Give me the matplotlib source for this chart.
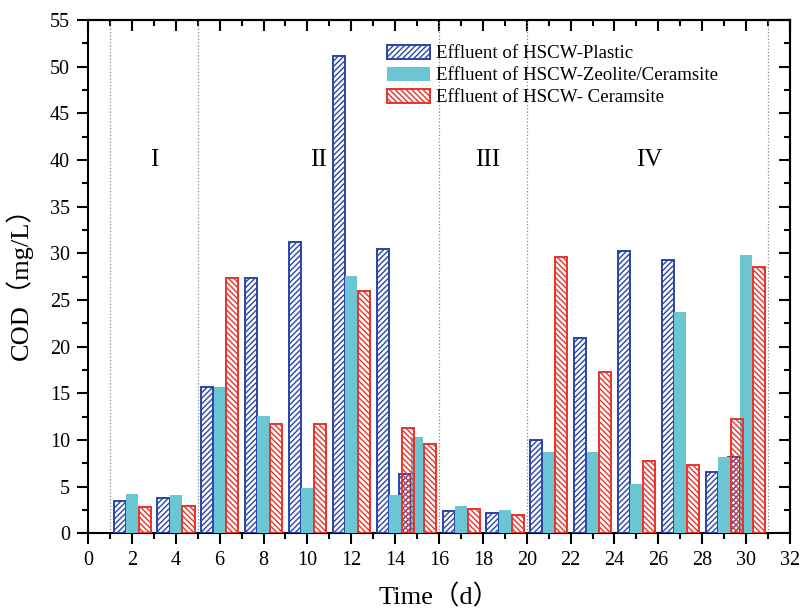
import matplotlib
matplotlib.use("Agg")
import matplotlib.pyplot as plt
from matplotlib.ticker import MultipleLocator
import numpy as np

plt.rcParams['hatch.linewidth'] = 1.0

days = [2, 4, 6, 8, 10, 12, 14, 15, 17, 19, 21, 23, 25, 27, 29, 30]
plastic = [3.5, 3.75, 15.64, 27.36, 31.25, 51.1, 30.5, 6.36, 2.39, 2.14,
           10.0, 20.9, 30.25, 29.29, 6.54, 8.21]
zeolite = [4.21, 4.07, 15.68, 12.6, 4.8, 27.6, 4.1, 10.36, 2.93, 2.46,
           8.73, 8.71, 5.29, 23.68, 8.21, 29.86]
ceramsite = [2.86, 2.96, 27.36, 11.75, 11.71, 26.0, 11.25, 9.54, 2.64, 1.96,
             29.57, 17.25, 7.79, 7.36, 12.21, 28.5]
labels = ["Effluent of HSCW-Plastic", "Effluent of HSCW-Zeolite/Ceramsite",
          "Effluent of HSCW- Ceramsite"]
stage_lines = [1, 5, 16, 20, 31]
stage_names = ["I", "II", "III", "IV"]
stage_pos = [3, 10.5, 18.2, 25.6]

blue = "#2a44a8"
cyan = "#6cc5d2"
red = "#e8332b"
serif = ['Liberation Serif', 'Noto Sans CJK SC']

fig = plt.figure(figsize=(8.03, 6.08), dpi=100)
ax = fig.add_axes([0.1096, 0.1229, 0.8742, 0.8441])

x = np.array(days, dtype=float)
w = 0.55
ax.bar(x - 0.56, plastic, w, facecolor='none', edgecolor=blue, hatch='//////',
       linewidth=1.4, label=labels[0], zorder=3)
ax.bar(x, zeolite, w, color=cyan, linewidth=0, label=labels[1], zorder=3)
ax.bar(x + 0.58, ceramsite, w, facecolor='none', edgecolor=red, hatch='\\\\\\\\\\\\',
       linewidth=1.4, label=labels[2], zorder=3)

for s in stage_lines:
    ax.axvline(s, color='#888888', linestyle=':', linewidth=0.9, zorder=1)
for name, p in zip(stage_names, stage_pos):
    ax.text(p, 40, name, ha='center', va='center', fontsize=18,
            family='Liberation Serif')

ax.set_xlim(0, 32)
ax.set_ylim(0, 55)
ax.xaxis.set_major_locator(MultipleLocator(2))
ax.xaxis.set_minor_locator(MultipleLocator(1))
ax.yaxis.set_major_locator(MultipleLocator(5))
ax.yaxis.set_minor_locator(MultipleLocator(2.5))
ax.tick_params(which='major', direction='out', length=8, width=1.5,
               labelsize=14.5, pad=5)
ax.tick_params(which='minor', direction='out', length=4, width=1.5)
for lab in ax.get_xticklabels() + ax.get_yticklabels():
    lab.set_family('Liberation Serif')
for sp in ax.spines.values():
    sp.set_linewidth(1.5)

top = ax.secondary_xaxis('top')
top.xaxis.set_major_locator(MultipleLocator(2))
top.xaxis.set_minor_locator(MultipleLocator(1))
top.tick_params(which='major', direction='in', length=8, width=1.5, labeltop=False)
top.tick_params(which='minor', direction='in', length=4, width=1.5)
top.spines['top'].set_linewidth(1.5)
right = ax.secondary_yaxis('right')
right.yaxis.set_major_locator(MultipleLocator(5))
right.yaxis.set_minor_locator(MultipleLocator(2.5))
right.tick_params(which='major', direction='in', length=8, width=1.5, labelright=False)
right.tick_params(which='minor', direction='in', length=4, width=1.5)
right.spines['right'].set_linewidth(1.5)

ax.set_xlabel("Time（d）", fontsize=19, family=serif, labelpad=10)
ax.set_ylabel("COD（mg/L）", fontsize=19, family=serif, labelpad=12)

leg = ax.legend(loc='upper left', bbox_to_anchor=(0.426, 0.952), frameon=False,
                prop={'family': 'Liberation Serif', 'size': 13.6},
                handlelength=2.3, handleheight=0.8, labelspacing=0.22,
                handletextpad=0.3, borderaxespad=0, borderpad=0)

fig.savefig("out.png", dpi=100)
